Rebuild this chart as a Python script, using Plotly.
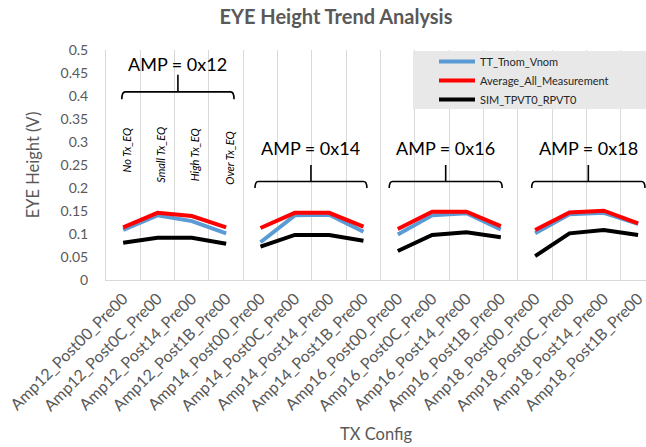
import plotly.graph_objects as go

categories = [
    "Amp12_Post00_Pre00", "Amp12_Post0C_Pre00", "Amp12_Post14_Pre00", "Amp12_Post1B_Pre00",
    "Amp14_Post00_Pre00", "Amp14_Post0C_Pre00", "Amp14_Post14_Pre00", "Amp14_Post1B_Pre00",
    "Amp16_Post00_Pre00", "Amp16_Post0C_Pre00", "Amp16_Post14_Pre00", "Amp16_Post1B_Pre00",
    "Amp18_Post00_Pre00", "Amp18_Post0C_Pre00", "Amp18_Post14_Pre00", "Amp18_Post1B_Pre00",
]
tt_tnom_vnom = [0.109, 0.1405, 0.128, 0.1015, 0.082, 0.1405, 0.142, 0.105,
                0.099, 0.1405, 0.145, 0.110, 0.1014, 0.143, 0.146, 0.122]
average_all_measurement = [0.1145, 0.146, 0.139, 0.1145, 0.113, 0.146, 0.146, 0.116,
                           0.111, 0.1486, 0.1486, 0.117, 0.1087, 0.147, 0.1507, 0.123]
sim_tpvt0_rpvt0 = [0.081, 0.092, 0.092, 0.079, 0.0725, 0.098, 0.098, 0.0855,
                   0.063, 0.098, 0.1036, 0.093, 0.052, 0.1014, 0.1087, 0.098]
amp_labels = ["AMP = 0x12", "AMP = 0x14", "AMP = 0x16", "AMP = 0x18"]
eq_labels = ["No Tx_EQ", "Small Tx_EQ", "High Tx_EQ", "Over Tx_EQ"]
group_size = 4

# layout helpers (brace extents in category units, heights in data units)
brace_left = [-0.04, 3.84, 7.75, 11.9]
brace_right = [3.23, 7.10, 11.04, 15.2]
brace_y = [0.409, 0.214, 0.214, 0.214]
brace_drop = [0.016, 0.014, 0.014, 0.014]
brace_tip = [0.446, 0.25, 0.25, 0.25]
amp_text_y = [0.470, 0.287, 0.287, 0.287]
eq_text_y = [0.283, 0.272, 0.272, 0.265]

FONT = "Lato"
GRAY = "#595959"
GRID = "#d9d9d9"


def gapped(values):
    xs, ys = [], []
    for g in range(0, len(values), group_size):
        if g:
            xs.append(None)
            ys.append(None)
        xs.extend(range(g, g + group_size))
        ys.extend(values[g:g + group_size])
    return xs, ys


fig = go.Figure()
series = [
    ("TT_Tnom_Vnom", tt_tnom_vnom, "#5B9BD5"),
    ("Average_All_Measurement", average_all_measurement, "#FF0000"),
    ("SIM_TPVT0_RPVT0", sim_tpvt0_rpvt0, "#000000"),
]
for i, (name, vals, col) in enumerate(series):
    xs, ys = gapped(vals)
    fig.add_trace(go.Scatter(x=xs, y=ys, name=name, mode="lines",
                             line=dict(color=col, width=4), legendgroup=f"g{i}",
                             connectgaps=False))

shapes = []
annotations = []
for k in range(len(amp_labels)):
    x0, x1 = brace_left[k], brace_right[k]
    xc = (x0 + x1) / 2
    yh = brace_y[k]
    yb = yh - brace_drop[k]
    dx = 0.1
    path = (f"M {x0},{yb} Q {x0},{yh} {x0+dx},{yh} L {x1-dx},{yh} "
            f"Q {x1},{yh} {x1},{yb} M {xc},{yh} L {xc},{brace_tip[k]}")
    shapes.append(dict(type="path", path=path, xref="x", yref="y",
                       line=dict(color="black", width=1.6)))
    annotations.append(dict(x=xc, y=amp_text_y[k], xref="x", yref="y", text=amp_labels[k],
                            showarrow=False, font=dict(family=FONT, size=18, color="black")))

for j, lab in enumerate(eq_labels):
    annotations.append(dict(x=j + 0.1, y=eq_text_y[j], xref="x", yref="y", text=f"<i>{lab}</i>",
                            textangle=-90, showarrow=False,
                            font=dict(family=FONT, size=11, color="black")))

# legend background box
shapes.append(dict(type="rect", xref="paper", yref="paper", x0=(413 - 106) / 540, x1=1.0,
                   y0=(280 - 109) / 230, y1=(280 - 51) / 230, fillcolor="#e8e8e8",
                   line=dict(width=0), layer="above"))

fig.update_layout(
    width=646, height=447,
    margin=dict(l=106, r=0, t=50, b=167),
    paper_bgcolor="white", plot_bgcolor="white",
    font=dict(family=FONT, color=GRAY),
    title=dict(text="<b>EYE Height Trend Analysis</b>", x=336 / 646, xref="container",
               xanchor="center", y=1 - 17 / 447, yanchor="middle",
               font=dict(family=FONT, size=20, color=GRAY)),
    showlegend=True,
    legend=dict(x=(434 - 106) / 540, y=(280 - 47) / 230, xanchor="left", yanchor="top",
                bgcolor="rgba(0,0,0,0)", font=dict(family=FONT, size=11, color="#262626"),
                itemwidth=36, tracegroupgap=2, traceorder="normal"),
    shapes=shapes,
    annotations=annotations,
)
fig.update_xaxes(
    range=[-0.5, 15.23], tickmode="array", tickvals=list(range(len(categories))),
    ticktext=categories, tickangle=-45, showgrid=False, zeroline=False,
    tickfont=dict(family=FONT, size=16, color=GRAY), ticklabeloverflow="allow",
    ticklabelstandoff=2,
    showline=True, linecolor=GRID, linewidth=1, ticks="",
    minor=dict(tickmode="linear", tick0=-0.5, dtick=1, showgrid=True, gridcolor=GRID,
               gridwidth=1, ticks=""),
    title=dict(text="TX Config", font=dict(family=FONT, size=16.5, color=GRAY), standoff=15),
)
fig.update_yaxes(
    range=[0, 0.5], tickmode="linear", tick0=0, dtick=0.05, showgrid=False, zeroline=False,
    showline=True, linecolor=GRID, linewidth=1, ticks="",
    tickfont=dict(family=FONT, size=14, color=GRAY), ticklabelstandoff=14,
    title=dict(text="EYE Height (V)", font=dict(family=FONT, size=16.5, color=GRAY), standoff=16),
)

fig.write_html("out.html")
